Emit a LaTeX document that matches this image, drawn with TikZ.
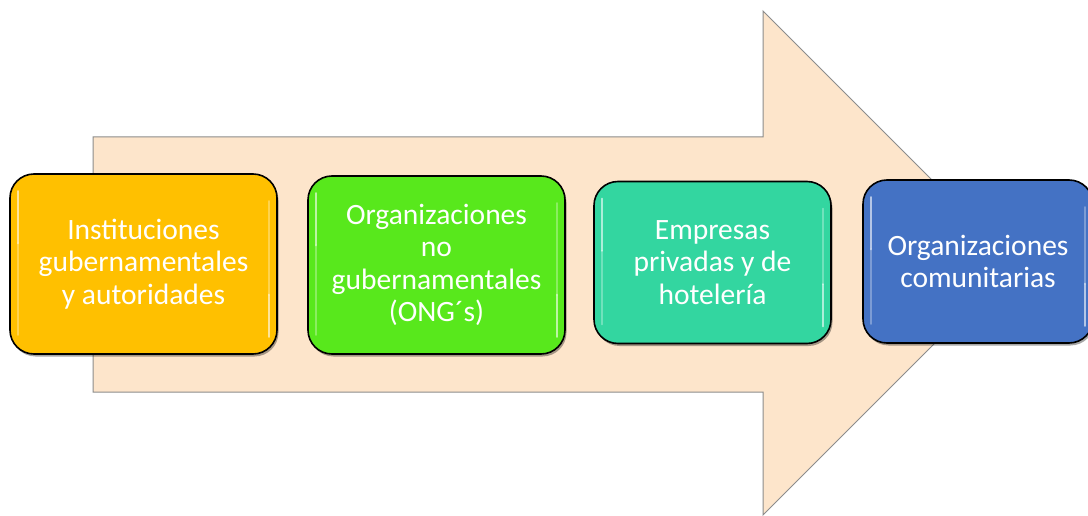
\documentclass[tikz,border=0pt]{standalone}
\usepackage{fontspec}
\setmainfont{Carlito}
\usetikzlibrary{shadows,fadings}
\definecolor{peach}{HTML}{FDE5CB}
\definecolor{arrowline}{HTML}{8C8C8C}
\definecolor{c1}{HTML}{FFC000}
\definecolor{c2}{HTML}{58E81C}
\definecolor{c3}{HTML}{33D6A0}
\definecolor{c4}{HTML}{4472C4}
\tikzset{
  box/.style={draw=black, line width=1.6pt, rounded corners=24pt, align=center,
    text=white, font=\fontsize{29.5}{32.5}\selectfont, inner sep=0pt,
    drop shadow={shadow xshift=1.5pt, shadow yshift=-2.5pt, opacity=0.35, fill=black}},
  hl/.style={white, opacity=0.6, line width=2.2pt, line cap=round},
  bigarrow/.style={fill=peach, draw=arrowline, line width=1pt}
}
\begin{document}
\begin{tikzpicture}[x=1pt,y=-1pt]
\useasboundingbox (0,0) rectangle (1088,516);
\draw[bigarrow] (93,137) -- (763,137) -- (763,11) -- (1015,263) -- (763,515) -- (763,392) -- (93,392) -- cycle;

\node[box, fill=c1, minimum width=267pt, minimum height=180pt] (b1) at (143.5,264)
  {Instituciones\\gubernamentales\\y autoridades};
\node[box, fill=c2, minimum width=257pt, minimum height=178pt] (b2) at (436.5,265)
  {Organizaciones\\no\\gubernamentales\\(ONG´s)};
\node[box, fill=c3, minimum width=237pt, minimum height=162pt] (b3) at (712.5,262.5)
  {Empresas\\privadas y de\\hotelería};
\node[box, fill=c4, minimum width=230pt, minimum height=163pt] (b4) at (978,261.5)
  {Organizaciones\\comunitarias};

\foreach \b in {b1,b2,b3,b4}{
  \draw[hl] ([xshift=9pt,yshift=-18pt]\b.north west) -- ([xshift=9pt,yshift=-70pt]\b.north west);
  \draw[hl, opacity=0.3] ([xshift=9pt,yshift=-70pt]\b.north west) -- ([xshift=9pt,yshift=20pt]\b.south west);
  \draw[hl, opacity=0.3] ([xshift=-9pt,yshift=-28pt]\b.north east) -- ([xshift=-9pt,yshift=60pt]\b.south east);
  \draw[hl] ([xshift=-9pt,yshift=60pt]\b.south east) -- ([xshift=-9pt,yshift=18pt]\b.south east);
}
\end{tikzpicture}
\end{document}
